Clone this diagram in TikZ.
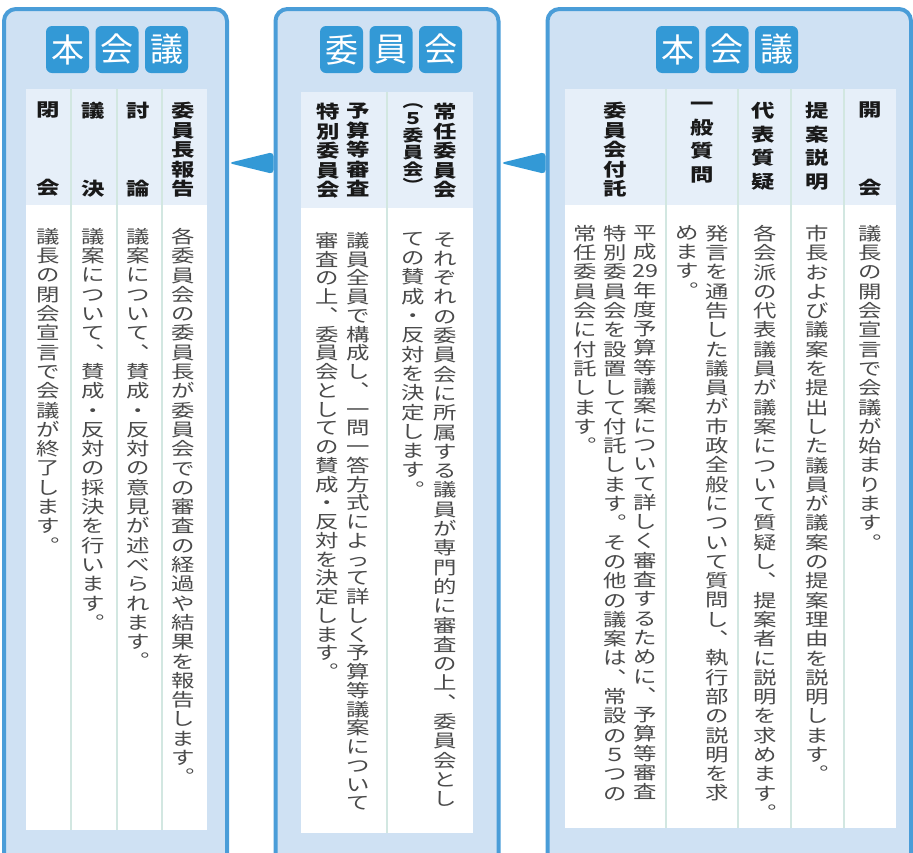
\documentclass[tikz,border=0pt]{standalone}
\usepackage{fontspec}
\setmainfont{Noto Sans CJK JP}
\usepackage{graphicx}
\usetikzlibrary{positioning}
\definecolor{panelfill}{HTML}{CFE1F3}
\definecolor{panelline}{HTML}{4A9DD8}
\definecolor{badgefill}{HTML}{3399D6}
\definecolor{headfill}{HTML}{E6EFF9}
\definecolor{rulecol}{HTML}{D2E7E1}
\definecolor{bodytext}{HTML}{4A4A4A}
\tikzset{panel/.style = {draw=panelline, line width=4, fill=panelfill, rounded corners=12, outer sep=0, inner sep=0}}
\tikzset{badge/.style = {fill=badgefill, rounded corners=6, minimum width=43, minimum height=47, inner sep=0, text=white, font=\fontsize{33}{33}\selectfont}}
\tikzset{head/.style = {anchor=north, inner sep=0, text=black!90, font=\bfseries\fontsize{18}{18}\selectfont}}
\tikzset{body/.style = {anchor=north, inner sep=0, text=bodytext, font=\fontsize{18}{18}\selectfont}}
\tikzset{colrule/.style = {draw=rulecol, line width=1.5}}
\tikzset{wedge/.style = {fill=badgefill, rounded corners=4}}

% vertical (tategaki) setting: one character per row
\makeatletter
\def\tate@stop{\tate@stop}
\def\tate@stopm{\tate@stop}
\def\tate@comma{、}
\def\tate@period{。}
\newcommand\tate[2][19.3pt]{\vtop{\baselineskip=#1\lineskip=0pt\lineskiplimit=-100pt\relax
  \tate@loop#2\tate@stop}}
\def\tate@loop#1{\def\tate@tmp{#1}%
  \ifx\tate@tmp\tate@stopm\else\tate@char{#1}\expandafter\tate@loop\fi}
\def\tate@char#1{\def\tate@tmp{#1}%
  \ifx\tate@tmp\tate@comma\tate@one{︑}\else
  \ifx\tate@tmp\tate@period\tate@one{︒}\else
  \tate@one{#1}\fi\fi}
\def\tate@one#1{\hbox to 1.3em{\hss\scalebox{1.3}[1]{#1}\hss}}
\makeatother

\begin{document}
\begin{tikzpicture}[x=1pt, y=-1pt]
  \clip (0,0) rectangle (913,852);

  % panels
  \node[panel, minimum width=223, minimum height=900, anchor=north west] (closing) at (4,9) {};
  \node[panel, minimum width=223, minimum height=900, anchor=north west] (committee) at (275.5,9) {};
  \node[panel, minimum width=363.5, minimum height=900, anchor=north west] (opening) at (547.5,9) {};

  % title badges
  \foreach \c [count=\i] in {本,会,議}
    \node[badge] (closingT\i) at (18+49.5*\i,49.5) {\c};
  \foreach \c [count=\i] in {委,員,会}
    \node[badge] (committeeT\i) at (292+49.5*\i,49.5) {\c};
  \foreach \c [count=\i] in {本,会,議}
    \node[badge] (openingT\i) at (628+49.5*\i,49.5) {\c};

  % tables
  \fill[headfill] (26,89) rectangle (207,205);
  \fill[white] (26,205) rectangle (207,830);
  \foreach \x in {71,117,162}
    \draw[colrule] (\x,89) -- (\x,830);

  \fill[headfill] (301,92) rectangle (473,208);
  \fill[white] (301,208) rectangle (473,833);
  \draw[colrule] (387,92) -- (387,833);

  \fill[headfill] (565,89) rectangle (896,205);
  \fill[white] (565,205) rectangle (896,828);
  \foreach \x in {666,738,791,844}
    \draw[colrule] (\x,89) -- (\x,828);

  % headings, right panel
  \node[head] (hKaikai) at (870,102) {\tate[19.5pt]{開{}{}{}会}};
  \node[head] (hTeian) at (817,102) {\tate[23.5pt]{提案説明}};
  \node[head] (hDaihyo) at (763,102) {\tate[23.5pt]{代表質疑}};
  \node[head] (hIppan) at (702,102) {\tate[23.5pt]{一般質問}};
  \node[head] (hFutaku) at (615,102) {\tate[19.5pt]{委員会付託}};

  % headings, middle panel
  \node[head] (hJonin) at (445,103) {\tate[19.5pt]{常任委員会}};
  \node[head, font=\bfseries\fontsize{16}{16}\selectfont] (hGoiin) at (413,104) {\tate[16.8pt]{︵５委員会︶}};
  \node[head] (hYosan) at (358,103) {\tate[19.5pt]{予算等審査}};
  \node[head] (hTokubetsu) at (328,103) {\tate[19.5pt]{特別委員会}};

  % headings, left panel
  \node[head] (hHokoku) at (183,102) {\tate[19.5pt]{委員長報告}};
  \node[head] (hToron) at (138,102) {\tate[19.5pt]{討{}{}{}論}};
  \node[head] (hGiketsu) at (93,102) {\tate[19.5pt]{議{}{}{}決}};
  \node[head] (hHeikai) at (48,102) {\tate[19.5pt]{閉{}{}{}会}};

  % texts, right panel
  \node[body] (tKaikai) at (870,225) {\tate{議長の開会宣言で会議が始まります。}};
  \node[body] (tTeian) at (817,225) {\tate{市長および議案を提出した議員が議案の提案理由を説明します。}};
  \node[body] (tDaihyo) at (765,225) {\tate{各会派の代表議員が議案について質疑し、提案者に説明を求めます。}};
  \node[body] (tIppanA) at (717,225) {\tate{発言を通告した議員が市政全般について質問し、執行部の説明を求}};
  \node[body] (tIppanB) at (687,225) {\tate{めます。}};
  \node[body] (tFutakuA) at (645,225) {\tate{平成{29}年度予算等議案について詳しく審査するために、予算等審査}};
  \node[body] (tFutakuB) at (615,225) {\tate{特別委員会を設置して付託します。その他の議案は、常設の５つの}};
  \node[body] (tFutakuC) at (585,225) {\tate{常任委員会に付託します。}};

  % texts, middle panel
  \node[body] (tJoninA) at (445,232) {\tate{それぞれの委員会に所属する議員が専門的に審査の上、委員会とし}};
  \node[body] (tJoninB) at (413,232) {\tate{ての賛成・反対を決定します。}};
  \node[body] (tTokuA) at (358,232) {\tate[18.75pt]{議員全員で構成し、一問一答方式によって詳しく予算等議案について}};
  \node[body] (tTokuB) at (327,232) {\tate[18.75pt]{審査の上、委員会としての賛成・反対を決定します。}};

  % texts, left panel
  \node[body] (tHokoku) at (183,228) {\tate{各委員会の委員長が委員会での審査の経過や結果を報告します。}};
  \node[body] (tToron) at (138,228) {\tate{議案について、賛成・反対の意見が述べられます。}};
  \node[body] (tGiketsu) at (93,228) {\tate{議案について、賛成・反対の採決を行います。}};
  \node[body] (tHeikai) at (48,228) {\tate{議長の閉会宣言で会議が終了します。}};

  % flow wedges, right to left
  \coordinate (tipA) at (228.5,163);
  \coordinate (tipB) at (500.5,163);
  \fill[wedge] (tipA) -- (273.5,152) -- (273.5,174) -- cycle;
  \fill[wedge] (tipB) -- (545.5,152) -- (545.5,174) -- cycle;
\end{tikzpicture}
\end{document}
